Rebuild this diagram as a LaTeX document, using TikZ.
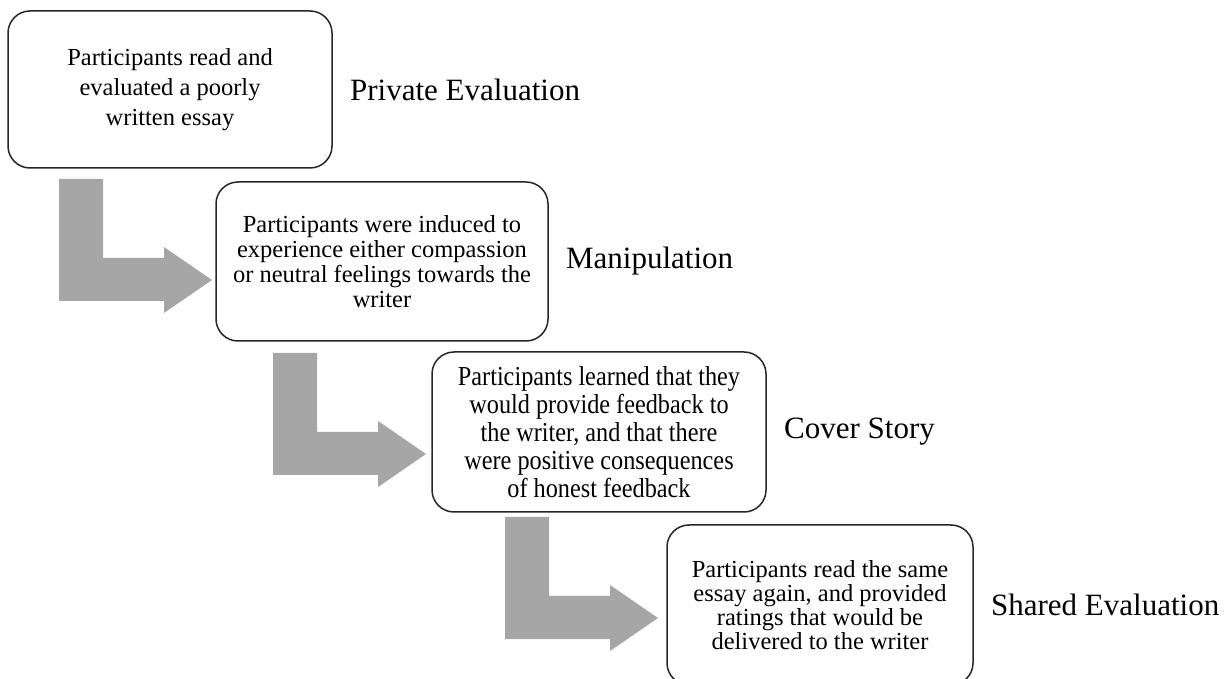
\documentclass[tikz,border=0pt]{standalone}
\usepackage{fontspec}
\setmainfont{Liberation Serif}
\newfontfamily\narrowserif[FakeStretch=0.885]{Liberation Serif}
\usepackage{tikz}
\usetikzlibrary{positioning}
\definecolor{arrowgray}{HTML}{A6A6A6}
\tikzset{
  stagebox/.style={draw=black!85, line width=0.75pt, rounded corners=11pt, align=center, inner sep=0pt},
  stagelabel/.style={font=\fontsize{15.5}{18}\selectfont, inner sep=0pt, right=8.5pt of #1}
}

\begin{document}
\begin{tikzpicture}[x=0.5pt,y=-0.5pt]
      \useasboundingbox (0,0) rectangle (1228,679);
      \foreach \x/\y in {59/179, 273/353, 505/517}
        \fill[arrowgray, shift={(\x,\y)}] (0,0) -- (44,0) -- (44,79) -- (105,79) -- (105,68) -- (153,101) -- (105,134) -- (105,122) -- (0,122) -- cycle;
      \node[stagebox, minimum width=162pt, minimum height=78.5pt, font=\fontsize{12.25}{15}\selectfont] (private) at (170,89.5) {Participants read and\\evaluated a poorly\\written essay};
      \node[stagebox, minimum width=166pt, minimum height=79.5pt, font=\fontsize{12.25}{12.5}\selectfont] (manip) at (382,261.5) {Participants were induced to\\experience either compassion\\or neutral feelings towards the\\writer};
      \node[stagebox, minimum width=167pt, minimum height=80pt, font=\narrowserif\fontsize{13.7}{14}\selectfont] (cover) at (599,432) {Participants learned that they\\would provide feedback to\\the writer, and that there\\were positive consequences\\of honest feedback};
      \node[stagebox, minimum width=153pt, minimum height=80pt, font=\fontsize{12.25}{12}\selectfont] (shared) at (820,605) {Participants read the same\\essay again, and provided\\ratings that would be\\delivered to the writer};
      \node[stagelabel=private] (privatelabel) {Private Evaluation};
      \node[stagelabel=manip] (maniplabel) {Manipulation};
      \node[stagelabel=cover] (coverlabel) {Cover Story};
      \node[stagelabel=shared] (sharedlabel) {Shared Evaluation};
\end{tikzpicture}
\end{document}
